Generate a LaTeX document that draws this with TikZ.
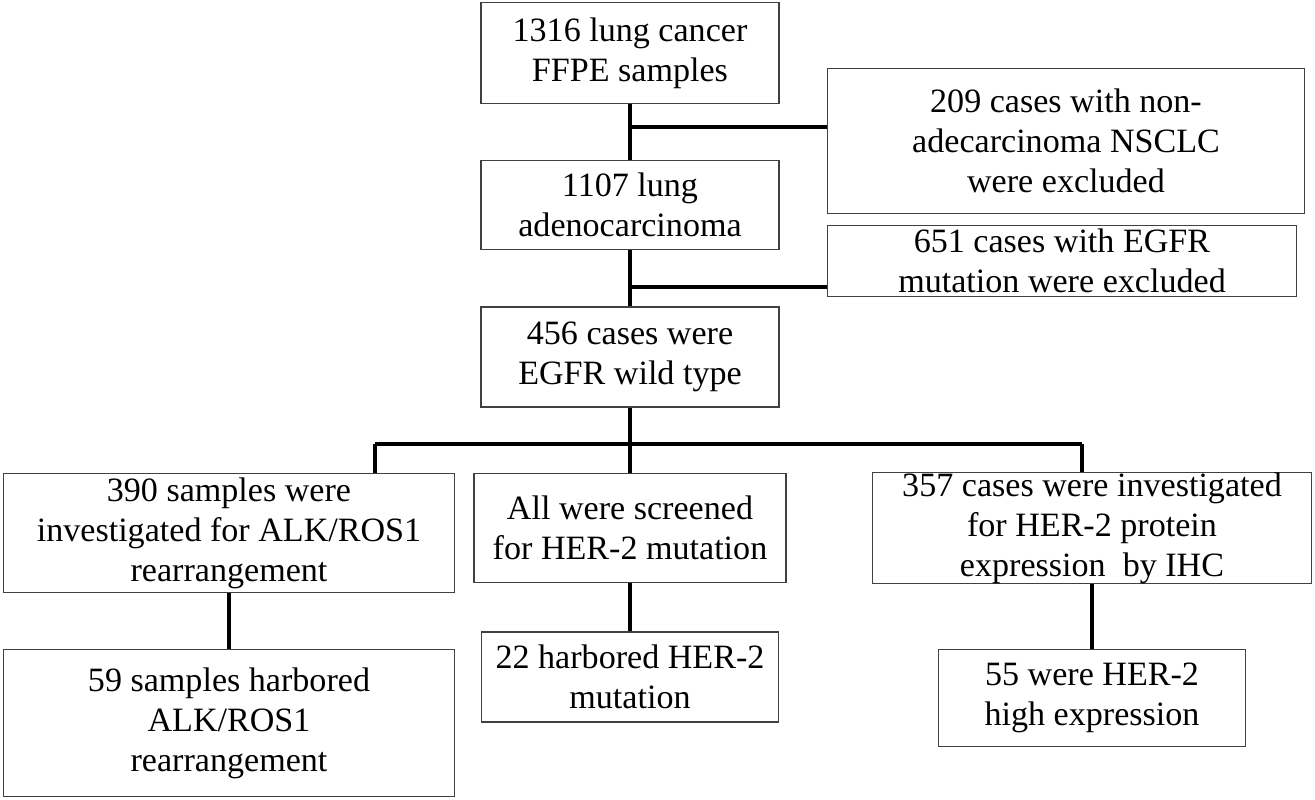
\documentclass[tikz,border=0pt]{standalone}
\usepackage{fontspec}
\setmainfont{Liberation Serif}
\begin{document}
\begin{tikzpicture}[x=0.02cm,y=-0.02cm,
 box/.style={draw=black!75,line width=1pt,align=center,inner sep=0pt,font=\fontsize{19.4}{22.8}\selectfont},
 ln/.style={line width=2.2pt}]
\useasboundingbox (0,0) rectangle (1315,800);
\newcommand{\bx}[6]{\node[box,minimum width=#4*0.02cm,minimum height=#5*0.02cm] (#1) at (#2,#3) {#6};}
\bx{A}{630}{53}{298}{101}{1316 lung cancer\\FFPE samples}
\bx{B}{1066}{141}{477}{145}{209 cases with non-\\adecarcinoma NSCLC\\were excluded}
\bx{C}{630}{205}{298}{89}{1107 lung\\adenocarcinoma}
\bx{D}{1062}{261}{469}{71}{651 cases with EGFR\\mutation were excluded}
\bx{E}{630}{357}{298}{100}{456 cases were\\EGFR wild type}
\bx{F}{229}{533}{451}{119}{390 samples were\\investigated for ALK/ROS1\\rearrangement}
\bx{G}{630}{528}{312}{109}{All were screened\\for HER-2 mutation}
\bx{H}{1092}{528}{439}{109}{357 cases were investigated\\for HER-2 protein\\expression\ \ by IHC}
\bx{I}{229}{723}{451}{147}{59 samples harbored\\ALK/ROS1\\rearrangement}
\bx{J}{630}{677}{297}{90}{22 harbored HER-2\\mutation}
\bx{K}{1092}{698}{307}{97}{55 were HER-2\\high expression}
\coordinate (p1) at (630,127);
\coordinate (p2) at (630,287);
\coordinate (p3) at (630,444);
\coordinate (l3) at (375,444);
\coordinate (r3) at (1082,444);
\draw[ln] (A) -- (C);
\draw[ln] (p1) -- (p1 -| B.west);
\draw[ln] (C) -- (E);
\draw[ln] (p2) -- (p2 -| D.west);
\draw[ln] (E) -- (G);
\draw[ln] (l3) -- (r3);
\draw[ln] (l3) -- (l3 |- F.north);
\draw[ln] (r3) -- (r3 |- H.north);
\draw[ln] (F) -- (I);
\draw[ln] (G) -- (J);
\draw[ln] (H) -- (K);
\end{tikzpicture}
\end{document}
